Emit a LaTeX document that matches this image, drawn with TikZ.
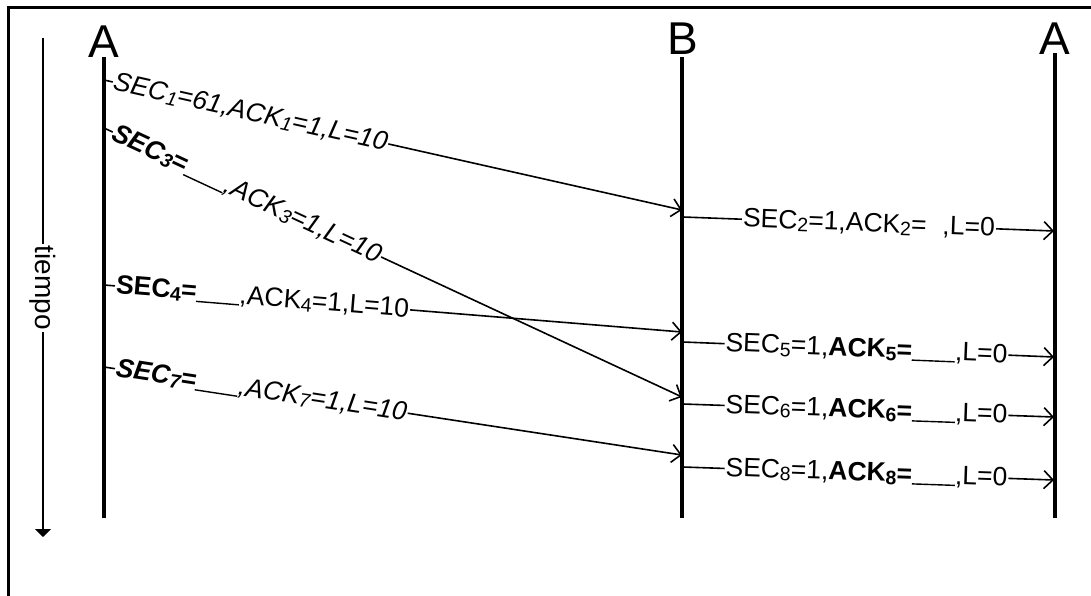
\documentclass[tikz,border=0pt]{standalone}
\usepackage{fontspec}
\setmainfont{Liberation Sans}
\usetikzlibrary{arrows.meta}
\newcommand\sbs[1]{\raisebox{-0.1em}{\fontsize{19.5}{19.5}\selectfont #1}}
\newcommand\blank{\rule[-2pt]{43pt}{1.4pt}}
\begin{document}
\begin{tikzpicture}[x=1pt,y=-1pt,
  life/.style={line width=3.2pt},
  frame/.style={line width=3pt},
  msg/.style={line width=1.6pt, -{Straight Barb[length=9pt,width=18pt,line width=1.6pt]}},
  lbl/.style={sloped, fill=white, inner sep=1pt, font=\fontsize{26.5}{28}\selectfont},
  who/.style={anchor=base, inner sep=0pt, font=\fontsize{46}{46}\selectfont},
  timeline/.style={line width=1.6pt}
]
\useasboundingbox (0,0) rectangle (1091,596);
\clip (0,0) rectangle (1091,596);
% frame (partly outside the picture)
\coordinate (f1) at (8,620);
\coordinate (f2) at (8,8);
\coordinate (f3) at (1120,8);
\draw[frame] (f1) -- (f2) -- (f3);

% time axis
\coordinate (ttop) at (43,38);
\coordinate (tbot) at (43,537);
\node[rotate=-90, inner sep=2pt, font=\fontsize{28}{28}\selectfont] (tiempo) at (43,288) {tiempo};
\draw[timeline] (ttop) -- (tiempo.west);
\draw[timeline, -{Triangle[length=8pt,width=16pt]}] (tiempo.east) -- (tbot);

% lifeline end points
\coordinate (a1t) at (104,57);  \coordinate (a1b) at (104,518);
\coordinate (bt)  at (682,57);  \coordinate (bb)  at (682,518);
\coordinate (a2t) at (1055,53); \coordinate (a2b) at (1055,518);

% message end points
\coordinate (m1s) at (104,80);  \coordinate (m1e) at (682,210);
\coordinate (m3s) at (104,128); \coordinate (m3e) at (682,397);
\coordinate (m4s) at (104,285); \coordinate (m4e) at (682,332);
\coordinate (m7s) at (104,367); \coordinate (m7e) at (682,455);
\coordinate (m2s) at (683,217); \coordinate (m2e) at (1054,231);
\coordinate (m5s) at (683,342); \coordinate (m5e) at (1054,357);
\coordinate (m6s) at (683,404); \coordinate (m6e) at (1054,417);
\coordinate (m8s) at (683,467); \coordinate (m8e) at (1054,480);

% messages A -> B
\draw[msg] (m1s) -- node[lbl, pos=0.014, anchor=west] (t1)
  {\itshape SEC\sbs{1}=61,ACK\sbs{1}=1,L=10} (m1e);
\draw[msg] (m3s) -- node[lbl, pos=0.014, anchor=west] (t3)
  {\itshape\textbf{SEC\sbs{3}=}\blank,ACK\sbs{3}=1,L=10} (m3e);
\draw[msg] (m4s) -- node[lbl, pos=0.018, anchor=west] (t4)
  {\textbf{SEC\sbs{4}=}\blank,ACK\sbs{4}=1,L=10} (m4e);
\draw[msg] (m7s) -- node[lbl, pos=0.018, anchor=west] (t7)
  {\itshape\textbf{SEC\sbs{7}=}\blank,ACK\sbs{7}=1,L=10} (m7e);

% messages B -> A
\draw[msg] (m2s) -- node[lbl, pos=0.157, anchor=west] (t2)
  {SEC\sbs{2}=1,ACK\sbs{2}=\hspace{0.6em},L=0} (m2e);
\draw[msg] (m5s) -- node[lbl, pos=0.11, anchor=west] (t5)
  {SEC\sbs{5}=1,\textbf{ACK\sbs{5}=}\blank,L=0} (m5e);
\draw[msg] (m6s) -- node[lbl, pos=0.11, anchor=west] (t6)
  {SEC\sbs{6}=1,\textbf{ACK\sbs{6}=}\blank,L=0} (m6e);
\draw[msg] (m8s) -- node[lbl, pos=0.11, anchor=west] (t8)
  {SEC\sbs{8}=1,\textbf{ACK\sbs{8}=}\blank,L=0} (m8e);

% lifelines
\draw[life] (a1t) -- (a1b);
\draw[life] (bt) -- (bb);
\draw[life] (a2t) -- (a2b);

% labels
\node[who] (la1) at (104,58) {A};
\node[who] (lb)  at (683,55) {B};
\node[who] (la2) at (1055,55) {A};
\end{tikzpicture}
\end{document}
